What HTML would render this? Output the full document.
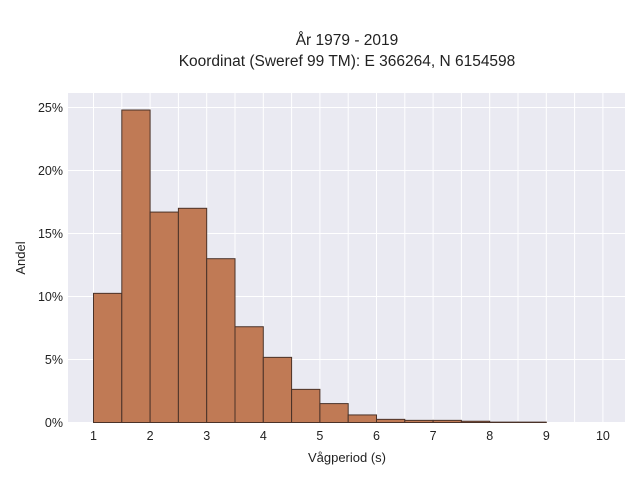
<!DOCTYPE html>
<html><head><meta charset="utf-8"><style>
body{margin:0;background:#fff;font-family:"Liberation Sans",sans-serif}
</style></head><body>
<svg width="640" height="480" viewBox="0 0 640 480" font-family="Liberation Sans, sans-serif">
<rect width="640" height="480" fill="#fff"/>
<text x="347" y="45" text-anchor="middle" font-size="15.5" fill="#222">År 1979 - 2019</text>
<text x="347" y="66" text-anchor="middle" font-size="15.5" fill="#222">Koordinat (Sweref 99 TM): E 366264, N 6154598</text>
<rect x="68" y="93" width="557" height="330" fill="#eaeaf2"/>
<g id="grid"></g><g id="bars"></g><g id="ticks"></g>
<text x="347" y="462" text-anchor="middle" font-size="13" fill="#222">Vågperiod (s)</text>
<text transform="translate(25,258) rotate(-90)" text-anchor="middle" font-size="13" fill="#222">Andel</text>
</svg>
<script>
const binStarts=[1,1.5,2,2.5,3,3.5,4,4.5,5,5.5,6,6.5,7,7.5,8,8.5];
const shares=[10.25,24.8,16.7,17.0,13.0,7.6,5.17,2.63,1.5,0.6,0.25,0.17,0.17,0.1,0.03,0.03];
const binWidth=0.5;
const xTicks=[1,2,3,4,5,6,7,8,9,10];
const yTicks=[0,5,10,15,20,25];
const NS="http://www.w3.org/2000/svg";
const x=v=>93.5+(v-1)*56.6;
const y=v=>422.5-v*12.6;
function mk(t,a){const e=document.createElementNS(NS,t);for(const k in a)e.setAttribute(k,a[k]);return e;}
const grid=document.getElementById('grid'),bars=document.getElementById('bars'),ticks=document.getElementById('ticks');
for(let v=1;v<=10.01;v+=0.5){const l=mk('line',{x1:x(v),x2:x(v),y1:93,y2:423,stroke:'#fff','stroke-width':1});

grid.appendChild(l);}
yTicks.forEach(v=>{const l=mk('line',{x1:68,x2:625,y1:y(v),y2:y(v),stroke:'#fff','stroke-width':1});

grid.appendChild(l);
const t=mk('text',{x:63,y:y(v)+4.5,'text-anchor':'end','font-size':12.5,fill:'#222'});t.textContent=v+'%';

ticks.appendChild(t);});
xTicks.forEach(v=>{const t=mk('text',{x:x(v),y:440,'text-anchor':'middle','font-size':12.5,fill:'#222'});t.textContent=v;

ticks.appendChild(t);});
binStarts.forEach((b,i)=>{const r=mk('rect',{x:x(b),y:y(shares[i]),width:x(b+binWidth)-x(b),height:y(0)-y(shares[i]),fill:'#c07a55',stroke:'#4a3228','stroke-width':1});

bars.appendChild(r);});
</script>
</body></html>
